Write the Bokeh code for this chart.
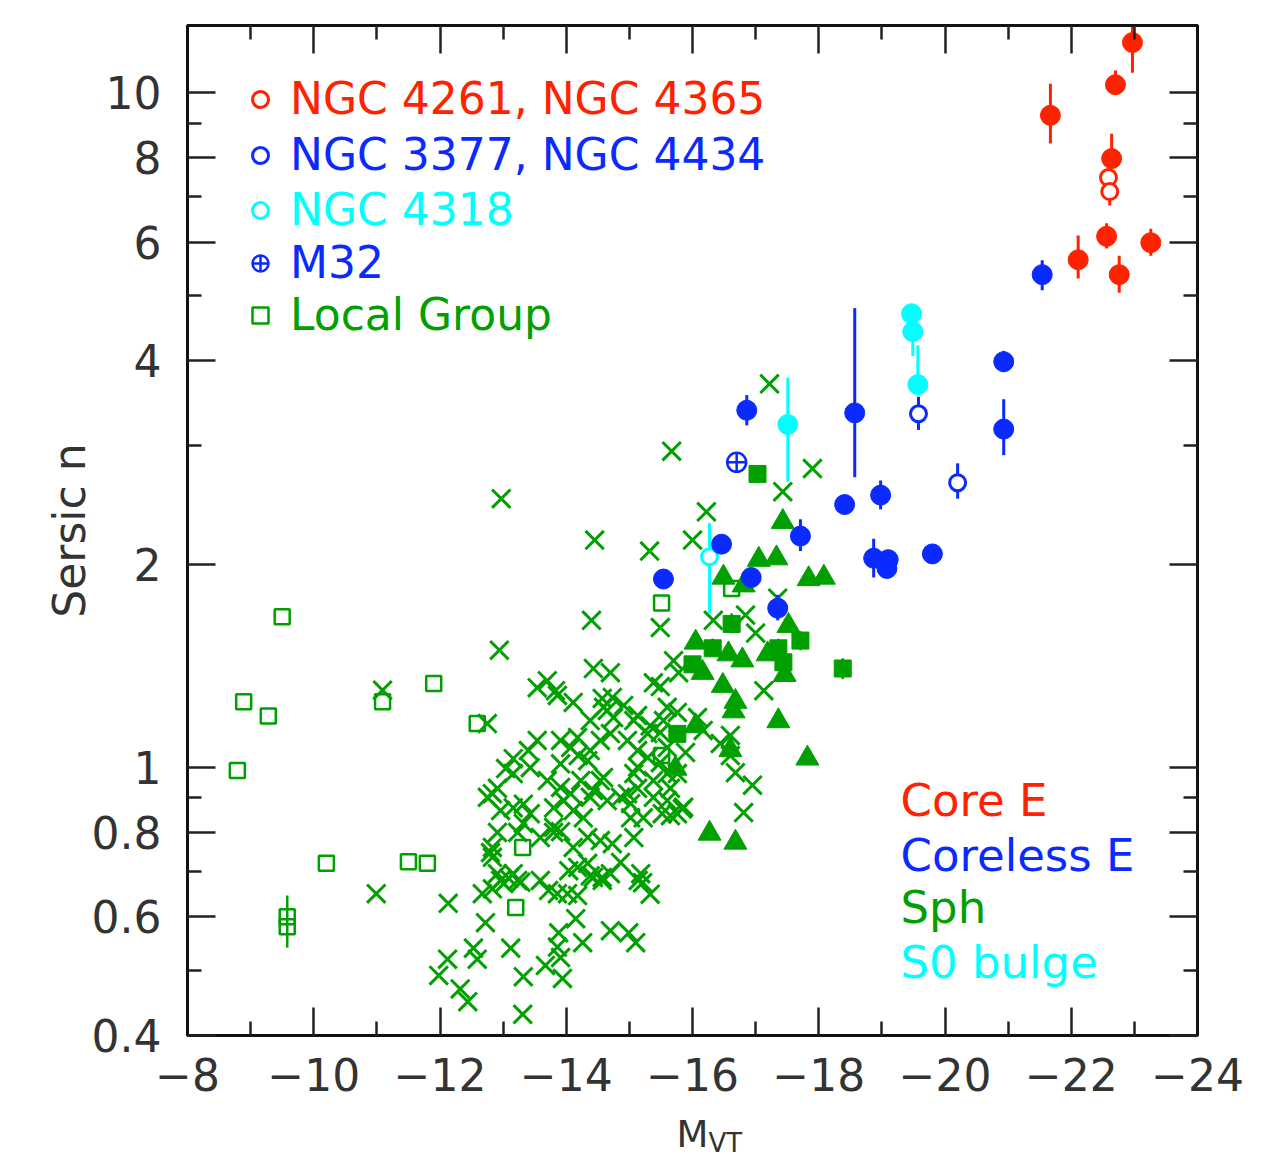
from bokeh.plotting import figure
from bokeh.models import (Range1d, FixedTicker, LinearAxis, LogAxis, CustomJSTickFormatter,
                          Legend, LegendItem, Label, Title)
from bokeh.embed import file_html
from bokeh.resources import INLINE

FONT = "DejaVu Sans"
RED = "#ff2200"
BLUE = "#0a2aff"
CYAN = "#00ffff"
GREEN = "#00a000"

# ---------------- data ----------------
# Sph (crosses)
sph_x_M = [-11.09, -10.99, -12.97, -14.45, -15.32, -15.67, -16.22, -16.00, -17.22, -17.90, -17.43,
           -12.94, -14.40, -15.49, -12.75, -16.33, -16.84, -17.00, -17.35,
           -12.13, -12.72, -11.98, -12.12, -12.32, -12.44, -12.53, -12.59, -13.12, -13.31, -13.32,
           -13.67, -13.86, -13.91, -13.94, -14.15, -13.88, -14.26, -14.70, -14.99, -15.10, -15.21,
           -15.33, -14.86,
           -13.59, -13.72, -13.86, -14.02, -14.18, -14.38, -14.57, -13.28, -12.67, -12.83, -12.96,
           -13.09, -12.91, -13.01, -13.23, -12.80, -12.83, -14.04, -14.18, -14.34, -14.43, -14.57,
           -14.70, -13.16, -15.14, -15.18,
           -12.91, -13.23, -13.80, -13.91, -14.11, -14.34, -14.54, -14.73, -15.07, -13.59, -12.83,
           -13.32, -13.80, -15.02, -15.22, -15.65, -15.84, -15.52, -15.76,
           -12.83, -12.91, -12.75, -12.96, -13.16, -13.32, -13.43, -13.70, -13.91, -14.07, -14.23,
           -14.43, -14.59, -13.80, -13.96, -14.11, -14.27, -14.38, -14.65, -14.86, -14.97, -15.02,
           -15.13, -15.38, -15.60, -15.86, -15.38, -15.60, -15.76, -15.65, -16.81, -16.95, -13.16,
           -15.07,
           -13.04, -13.16, -13.40, -13.54, -13.43, -13.91, -13.91, -14.07, -14.19, -14.38, -14.54,
           -14.70, -14.34, -14.54, -14.97, -15.13, -15.29, -15.13, -15.49, -15.60, -15.89, -16.68,
           -16.60, -16.44, -16.17, -16.60,
           -14.18, -14.38, -14.59, -14.75, -15.07, -15.29, -15.49, -15.33, -15.13, -14.65, -14.57,
           -14.73, -14.91, -14.11, -13.86, -15.54, -15.60, -15.76, -16.08,
           -13.54, -13.70, -13.83, -14.43, -14.70, -15.38, -15.49, -15.70, -15.78, -17.13]
sph_x_n = [1.30, 0.649, 2.50, 2.17, 2.09, 2.94, 2.39, 2.17, 3.70, 2.77, 2.56,
           1.49, 1.65, 1.61, 1.16, 1.65, 1.68, 1.58, 1.78,
           0.628, 0.588, 0.491, 0.519, 0.469, 0.449, 0.539, 0.519, 0.539, 0.430, 0.489,
           0.508, 0.541, 0.522, 0.486, 0.596, 0.568, 0.549, 0.572, 0.568, 0.549, 0.674,
           0.648, 0.722,
           0.679, 0.656, 0.649, 0.649, 0.645, 0.690, 0.686, 0.675, 0.649, 0.660, 0.679,
           0.684, 0.695, 0.672, 0.679, 0.747, 0.735, 0.702, 0.710, 0.720, 0.686, 0.679,
           0.695, 0.695, 0.679, 0.695,
           0.800, 0.800, 0.800, 0.802, 0.760, 0.786, 0.778, 0.770, 0.786, 0.786, 0.760,
           0.825, 0.814, 0.841, 0.841, 0.847, 0.867, 0.853, 0.853,
           0.913, 0.930, 0.902, 0.862, 0.870, 0.881, 0.853, 0.955, 0.933, 0.913, 0.955,
           0.923, 0.965, 0.870, 0.892, 0.862, 0.841, 0.902, 0.892, 0.902, 0.913, 0.883,
           0.930, 0.902, 0.892, 0.872, 0.955, 0.978, 0.978, 0.930, 0.856, 0.940, 0.978,
           0.978,
           0.995, 1.029, 1.058, 1.095, 0.998, 1.011, 1.095, 1.069, 1.040, 1.058, 1.095,
           1.121, 1.022, 0.955, 1.095, 1.058, 1.033, 1.000, 1.015, 1.069, 1.051, 0.981,
           1.040, 1.084, 1.133, 1.114,
           1.106, 1.172, 1.226, 1.184, 1.172, 1.121, 1.125, 1.151, 1.192, 1.213, 1.264,
           1.268, 1.234, 1.247, 1.277, 1.172, 1.226, 1.205, 1.184,
           1.311, 1.343, 1.298, 1.400, 1.380, 1.333, 1.316, 1.438, 1.380, 1.298]

# Sph (filled triangles)
sph_tri_M = [-17.43, -17.05, -17.33, -17.84, -18.08, -16.49, -16.81, -17.52, -16.05, -16.57, -16.79,
             -17.19, -17.46, -16.16, -16.48, -16.68, -16.65, -17.36, -17.82, -16.27, -16.68, -16.60,
             -16.05, -15.73]
sph_tri_n = [2.31, 2.03, 2.04, 1.90, 1.91, 1.91, 1.86, 1.62, 1.53, 1.47, 1.44,
             1.47, 1.37, 1.38, 1.32, 1.25, 1.21, 1.17, 1.03, 0.797, 0.773, 1.06,
             1.15, 0.995]

# Sph (filled squares)
sph_sq_M = [-17.03, -16.62, -17.71, -16.32, -17.36, -17.44, -18.38, -16.00, -15.76]
sph_sq_n = [2.72, 1.63, 1.54, 1.50, 1.50, 1.43, 1.40, 1.42, 1.12]
sph_sq_lo = [2.66, 1.58, 1.49, 1.46, 1.46, 1.39, 1.35, 1.38, 1.09]
sph_sq_hi = [2.78, 1.69, 1.59, 1.55, 1.55, 1.47, 1.45, 1.46, 1.15]

# Local Group (open squares)
lg_M = [-9.50, -8.89, -9.28, -8.79, -11.09, -11.90, -12.59, -10.20, -11.50, -11.80,
        -9.58, -9.58, -13.31, -13.20, -15.51, -15.51, -16.62]
lg_n = [1.67, 1.25, 1.19, 0.988, 1.25, 1.33, 1.16, 0.72, 0.724, 0.72,
        0.58, 0.60, 0.76, 0.619, 1.75, 1.04, 1.84]
lg_err_M = [-9.58]
lg_err_lo = [0.54]
lg_err_hi = [0.645]

# Coreless E (filled blue)
cl_M = [-21.54, -20.93, -20.93, -16.86, -18.57, -18.98, -18.41, -18.87, -19.10, -19.08,
        -19.80, -17.71, -16.46, -16.93, -15.54, -17.35]
cl_n = [5.37, 3.99, 3.17, 3.38, 3.35, 2.53, 2.45, 2.04, 2.03, 1.97,
        2.07, 2.20, 2.14, 1.91, 1.90, 1.72]
cl_lo = [5.09, 3.85, 2.90, 3.21, 2.69, 2.41, 2.45, 1.91, 2.03, 1.97,
         2.07, 2.09, 2.14, 1.91, 1.90, 1.65]
cl_hi = [5.64, 4.14, 3.51, 3.56, 4.79, 2.66, 2.45, 2.18, 2.03, 1.97,
         2.07, 2.33, 2.14, 1.91, 1.90, 1.80]

# NGC 3377, NGC 4434 (open blue)
cl_open_M = [-19.58, -20.20]
cl_open_n = [3.34, 2.64]
cl_open_lo = [3.16, 2.50]
cl_open_hi = [3.54, 2.82]

# M32
m32_M = [-16.70]
m32_n = [2.83]

# S0 bulges (filled cyan)
s0_M = [-19.47, -19.49, -19.57, -17.51]
s0_n = [4.70, 4.42, 3.69, 3.22]
s0_lo = [4.70, 4.07, 3.60, 2.65]
s0_hi = [4.70, 4.70, 4.22, 3.78]

# NGC 4318 (open cyan)
s0_open_M = [-16.27]
s0_open_n = [2.05]
s0_open_lo = [1.69]
s0_open_hi = [2.30]

# Core E (filled red)
core_M = [-22.97, -22.70, -21.67, -22.64, -22.56, -23.26, -22.11, -22.76]
core_n = [11.86, 10.27, 9.25, 7.98, 6.12, 5.99, 5.65, 5.37]
core_lo = [10.7, 10.0, 8.4, 7.79, 5.87, 5.73, 5.30, 5.05]
core_hi = [13.5, 10.78, 10.3, 8.69, 6.40, 6.28, 6.14, 5.73]

# NGC 4261, NGC 4365 (open red)
core_open_M = [-22.59, -22.61]
core_open_n = [7.48, 7.13]
core_open_lo = [7.48, 6.80]
core_open_hi = [7.48, 7.13]

x_major = [-8, -10, -12, -14, -16, -18, -20, -22, -24]
x_minor = [-9, -11, -13, -15, -17, -19, -21, -23]
y_major = [0.4, 0.6, 0.8, 1, 2, 4, 6, 8, 10]
y_minor = [0.5, 0.7, 0.9, 3, 5, 7, 9]

legend_labels = ["NGC 4261, NGC 4365", "NGC 3377, NGC 4434", "NGC 4318", "M32", "Local Group"]
type_labels = ["Core E", "Coreless E", "Sph", "S0 bulge"]

# ---------------- figure ----------------
p = figure(width=1275, height=1163, x_range=Range1d(-8, -24), y_range=Range1d(0.4, 12.57),
           y_axis_type="log", output_backend="svg", toolbar_location=None,
           min_border_left=187, min_border_right=78, min_border_top=25, min_border_bottom=128)
p.background_fill_color = "white"
p.border_fill_color = "white"
p.outline_line_color = "#111111"
p.outline_line_width = 3
p.xgrid.visible = False
p.ygrid.visible = False

xt = FixedTicker(ticks=x_major, minor_ticks=x_minor)
yt = FixedTicker(ticks=y_major, minor_ticks=y_minor)

bottom = p.below[0]
left = p.left[0]
top = LinearAxis()
right = LogAxis()
p.add_layout(top, "above")
p.add_layout(right, "right")

for ax, tk in ((bottom, xt), (top, xt), (left, yt), (right, yt)):
    ax.ticker = tk
    ax.axis_line_width = 3
    ax.axis_line_color = "#111111"
    ax.major_tick_in = 28
    ax.major_tick_out = 0
    ax.minor_tick_in = 14
    ax.minor_tick_out = 0
    ax.major_tick_line_width = 2.5
    ax.minor_tick_line_width = 2.5
    ax.major_tick_line_color = "#222222"
    ax.minor_tick_line_color = "#222222"
    ax.major_label_text_font = FONT
    ax.major_label_text_font_size = "44px"
    ax.major_label_text_color = "#333333"

bottom.formatter = CustomJSTickFormatter(
    code="return (tick < 0 ? '\\u2212' : '') + Math.abs(tick).toString();")
left.formatter = CustomJSTickFormatter(code="return tick.toString();")
bottom.major_label_standoff = 22
left.major_label_standoff = 26
for ax in (top, right):
    ax.formatter = CustomJSTickFormatter(code="return '';")
    ax.major_label_text_font_size = "0px"
    ax.major_label_standoff = 0

left.axis_label = "Sersic n"
left.axis_label_text_font = FONT
left.axis_label_text_font_size = "44px"
left.axis_label_text_font_style = "normal"
left.axis_label_text_color = "#333333"
left.axis_label_standoff = -6

bottom.axis_label = "M"
bottom.axis_label_text_font = FONT
bottom.axis_label_text_font_size = "37px"
bottom.axis_label_text_font_style = "normal"
bottom.axis_label_text_color = "#333333"
bottom.axis_label_standoff = 19

# subscript of the x-axis label
p.add_layout(Title(text="VT", align="left", offset=521, vertical_align="top", standoff=-62,
                   text_font=FONT, text_font_size="26px", text_font_style="normal",
                   text_color="#333333"), "below")

# ---------------- glyphs ----------------
p.scatter(sph_x_M, sph_x_n, marker="x", size=26, line_color=GREEN, line_width=3)
p.segment(x0=lg_err_M, y0=lg_err_lo, x1=lg_err_M, y1=lg_err_hi, line_color=GREEN, line_width=2.5)
r_lg = p.scatter(lg_M, lg_n, marker="square", size=15, fill_color="white", fill_alpha=0.0,
                 line_color=GREEN, line_width=2.5)
p.segment(x0=sph_sq_M, y0=sph_sq_lo, x1=sph_sq_M, y1=sph_sq_hi, line_color=GREEN, line_width=2.5)
p.scatter(sph_sq_M, sph_sq_n, marker="square", size=17, fill_color=GREEN, line_color=GREEN)
p.scatter(sph_tri_M, sph_tri_n, marker="triangle", size=23, fill_color=GREEN, line_color=GREEN)

p.segment(x0=s0_open_M, y0=s0_open_lo, x1=s0_open_M, y1=s0_open_hi, line_color=CYAN, line_width=3)
r_s0o = p.scatter(s0_open_M, s0_open_n, marker="circle", size=16, fill_color="white",
                  line_color=CYAN, line_width=3)

p.segment(x0=cl_M, y0=cl_lo, x1=cl_M, y1=cl_hi, line_color=BLUE, line_width=3)
p.scatter(cl_M, cl_n, marker="circle", size=20, fill_color=BLUE, line_color=BLUE)
p.segment(x0=cl_open_M, y0=cl_open_lo, x1=cl_open_M, y1=cl_open_hi, line_color=BLUE, line_width=3)
r_clo = p.scatter(cl_open_M, cl_open_n, marker="circle", size=16, fill_color="white",
                  line_color=BLUE, line_width=3)
r_m32 = p.scatter(m32_M, m32_n, marker="circle_cross", size=19, fill_color="white",
                  line_color=BLUE, line_width=2.5)

p.segment(x0=s0_M, y0=s0_lo, x1=s0_M, y1=s0_hi, line_color=CYAN, line_width=3)
p.scatter(s0_M, s0_n, marker="circle", size=20, fill_color=CYAN, line_color=CYAN)

p.segment(x0=core_M, y0=core_lo, x1=core_M, y1=core_hi, line_color=RED, line_width=3)
p.scatter(core_M, core_n, marker="circle", size=20, fill_color=RED, line_color=RED)
p.segment(x0=core_open_M, y0=core_open_lo, x1=core_open_M, y1=core_open_hi, line_color=RED,
          line_width=3)
r_coreo = p.scatter(core_open_M, core_open_n, marker="circle", size=16, fill_color="white",
                    line_color=RED, line_width=3)

# ---------------- legends (top-left) ----------------
leg_rends = [r_coreo, r_clo, r_s0o, r_m32, r_lg]
leg_colors = [RED, BLUE, CYAN, BLUE, GREEN]
leg_y = [911, 855, 800, 747, 695]
for lab, rend, col, ly in zip(legend_labels, leg_rends, leg_colors, leg_y):
    lg = Legend(items=[LegendItem(label=lab, renderers=[rend])], location=(53, ly),
                padding=0, margin=0, spacing=0, glyph_width=40, glyph_height=40,
                label_standoff=10, border_line_alpha=0, background_fill_alpha=0,
                label_text_font=FONT, label_text_font_size="44px", label_text_color=col)
    p.add_layout(lg)

# ---------------- type labels (bottom-right) ----------------
type_colors = [RED, BLUE, GREEN, CYAN]
type_y = [235, 180, 128, 73]
for t, c, ty in zip(type_labels, type_colors, type_y):
    p.add_layout(Label(x=713, y=ty, x_units="screen", y_units="screen", text=t,
                       text_font=FONT, text_font_size="45px", text_color=c,
                       text_align="left", text_baseline="middle"))

open("out.html", "w").write(file_html(p, INLINE))
